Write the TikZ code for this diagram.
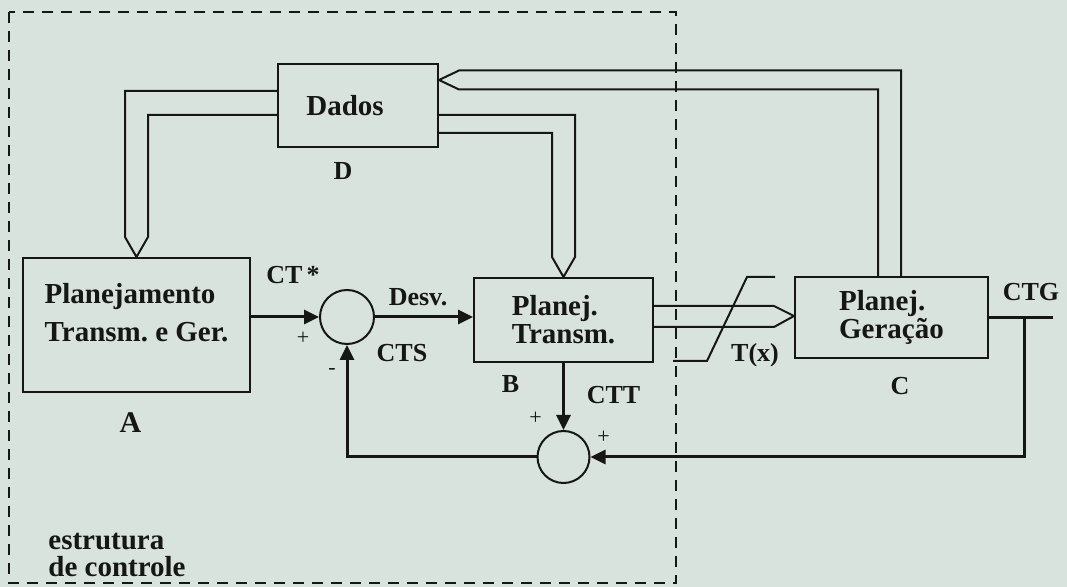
\documentclass[tikz,border=0pt]{standalone}
\usepackage{fontspec}
\setmainfont{Liberation Serif}
\usetikzlibrary{arrows.meta,positioning,calc}
\frenchspacing

\definecolor{paper}{RGB}{217,227,221}
\definecolor{ink}{RGB}{22,22,22}

\begin{document}
\begin{tikzpicture}[
  x=0.5pt, y=-0.5pt,
  font=\bfseries\fontsize{14.5}{14}\selectfont,
  blk/.style={rectangle, draw=ink, line width=1pt, align=left, inner sep=2pt, text=ink},
  sumc/.style={circle, draw=ink, line width=1pt, inner sep=0pt},
  arr/.style={-{Triangle[length=7.5pt,width=7pt]}, line width=1.5pt, draw=ink},
  ln/.style={line width=1.5pt, draw=ink},
  dbl/.style={line width=1pt, draw=ink, line join=miter},
  lab/.style={font=\bfseries\fontsize{13}{13}\selectfont, text=ink, inner sep=0pt},
  sgn/.style={font=\fontsize{11}{11}\selectfont, text=ink, inner sep=0pt},
]
\fill[paper] (0,0) rectangle (1067,587);
% control structure frame
\draw[ink, line width=1.1pt, dash pattern=on 5.5pt off 4pt] (9,12) rectangle (676,583);
\node[lab, anchor=west, align=left, font=\bfseries\fontsize{14.5}{13.5}\selectfont] (lestr) at (48,555) {estrutura\\de controle};

% blocks
\node[blk, minimum width=113.5pt, minimum height=67pt, text depth=13pt,
      font=\bfseries\fontsize{14.5}{19}\selectfont] (A) at (136.5,325) {Planejamento\\Transm. e Ger.};
\node[blk, minimum width=80pt, minimum height=41.5pt] (dados) at (358,105.5) {Dados\hspace*{13pt}};
\node[blk, minimum width=89.5pt, minimum height=42pt] (B) at (563.5,320) {Planej.\\Transm.};
\node[blk, minimum width=96.5pt, minimum height=40.5pt] (C) at (891.5,317.5) {Planej.\\Geração};
\node[sumc, minimum size=27pt] (cts) at (347,317) {};
\node[sumc, minimum size=26pt] (ctt) at (563.5,457) {};

% block letters
\node[lab, font=\bfseries\fontsize{15}{15}\selectfont] (la) at ($(A.south)+(-6,30)$) {A};
\node[lab] (lb) at ($(B.south)+(-53,21)$) {B};
\node[lab] (lc) at ($(C.south)+(8.5,27)$) {C};
\node[lab] (ld) at ($(dados.south)+(-15,23)$) {D};

% hollow (data) arrows
\draw[dbl] ($(dados.west)+(0,-14.5)$) -| ($(A.north)+(-11.5,-20)$) -- (A.north)
           -- ($(A.north)+(11.5,-20)$) |- ($(dados.west)+(0,9.5)$);
\draw[dbl] ($(dados.east)+(0,9.5)$) -| ($(B.north)+(11.5,-20)$) -- (B.north)
           -- ($(B.north)+(-11.5,-20)$) |- ($(dados.east)+(0,27.5)$);
\draw[dbl] ($(C.north)+(9.5,0)$) |- ($(dados.east)+(20,-35)$) -- ($(dados.east)+(0,-25.5)$)
           -- ($(dados.east)+(20,-16)$) -| ($(C.north)+(-13.5,0)$);
\draw[dbl] ($(B.east)+(0,-14)$) -- ($(C.west)+(-20,-11.5)$) -- ($(C.west)+(0,-1.5)$)
           -- ($(C.west)+(-20,9.5)$) -- ($(B.east)+(0,7)$);

% saturation T(x)
\draw[dbl] (673,361) -- (707,361) -- (747,277) -- (775,277);
\node[lab] (ltx) at (755,355) {T(x)};

% signal flow
\draw[arr] (A.east |- cts) -- (cts.west);
\draw[arr] (cts.east) -- (B.west |- cts);
\draw[arr] (B.south) -- (ctt.north);
\coordinate (ctgj) at ($(C.east)+(35,0)$);
\draw[ln] (C.east) -- ++(64,0) coordinate (ctgo);
\draw[arr] (ctgj) |- (ctt.east);
\draw[arr] (ctt.west) -| (cts.south);

% signal labels
\node[lab] (lctstar) at ($(cts)+(-54,-42)$) {CT\,*};
\node[lab] (ldesv) at ($(cts)+(71,-20)$) {Desv.};
\node[lab] (lcts) at ($(cts)+(55,36)$) {CTS};
\node[lab] (lctt) at ($(ctt)+(50,-62)$) {CTT};
\node[lab] (lctg) at ($(C.east)+(42,-25.5)$) {CTG};
\node[sgn] (p1) at ($(cts)+(-44,21)$) {+};
\node[sgn] (m1) at ($(cts)+(-15,55)$) {-};
\node[sgn] (p2) at ($(ctt)+(-28,-39)$) {+};
\node[sgn] (p3) at ($(ctt)+(40,-20)$) {+};
\end{tikzpicture}
\end{document}
